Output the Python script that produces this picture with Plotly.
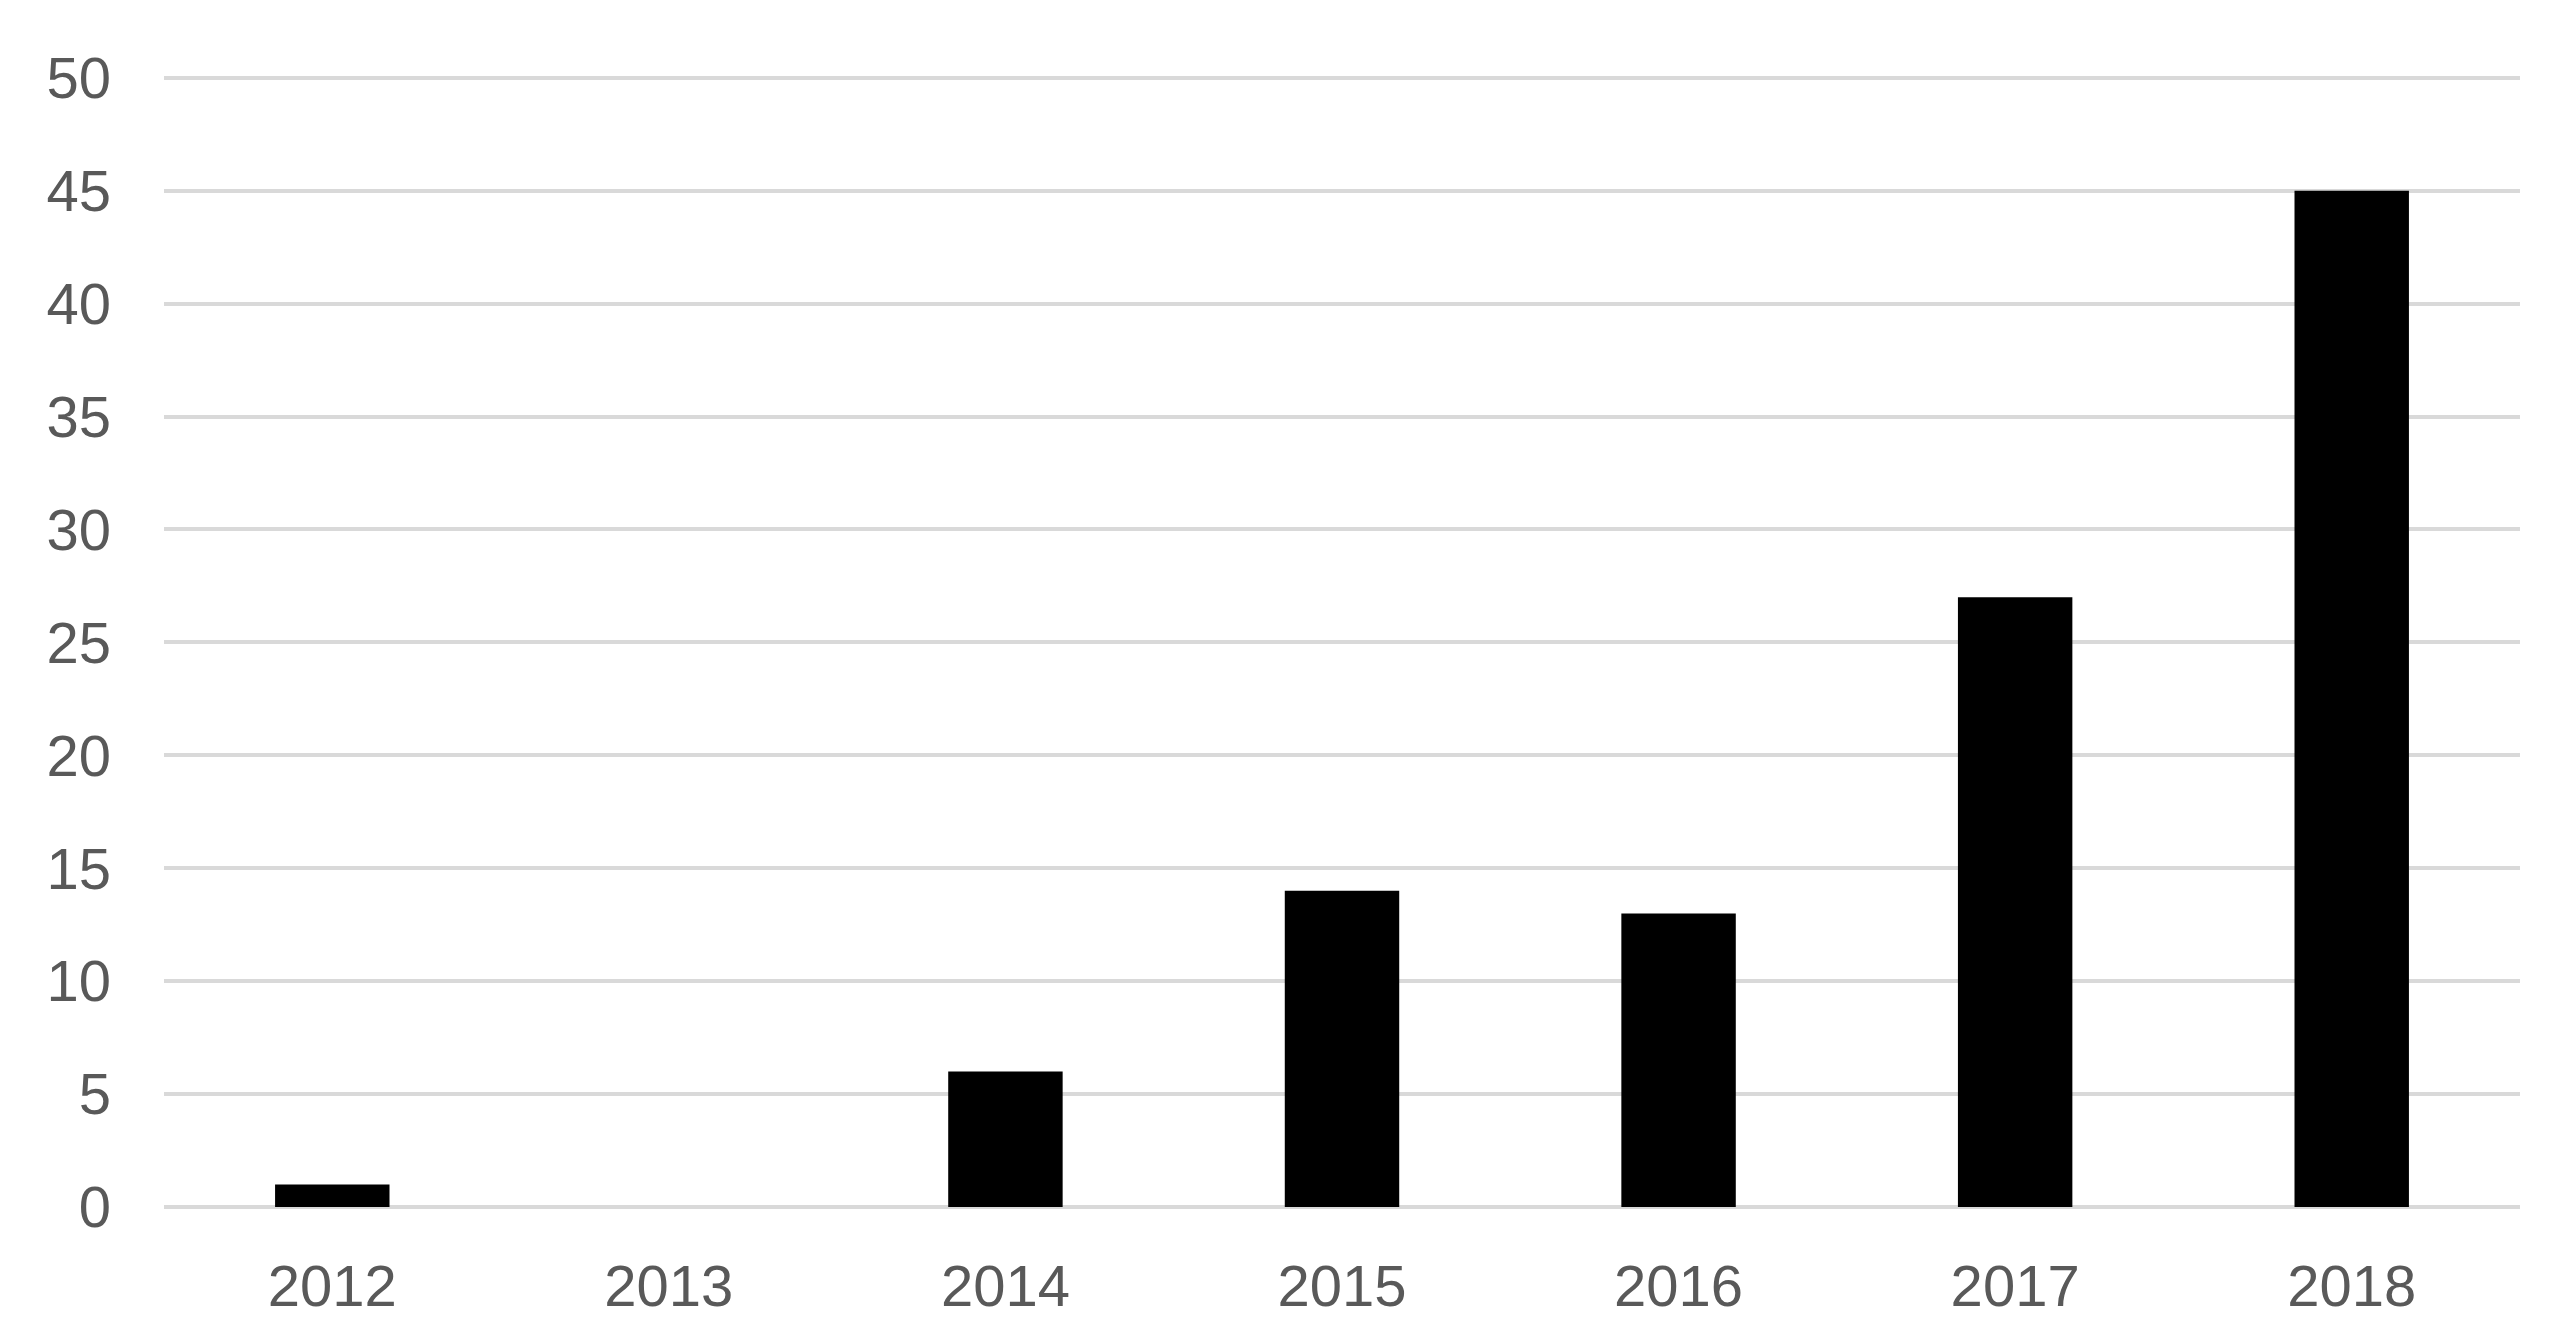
'''
    Bar chart: yearly counts 2012-2018.
'''

import plotly.graph_objects as go

years = ['2012', '2013', '2014', '2015', '2016', '2017', '2018']
counts = [1, 0, 6, 14, 13, 27, 45]
y_ticks = [0, 5, 10, 15, 20, 25, 30, 35, 40, 45, 50]

FONT = dict(family='Liberation Sans, Arial, sans-serif', size=58, color='#595959')

fig = go.Figure()
fig.add_trace(go.Bar(
    x=years,
    y=counts,
    marker=dict(color='#000000', line=dict(width=0)),
    hoverinfo='x+y',
))

# page body has an 8px margin, so the figure is a bit smaller than the window
fig.update_layout(
    width=2545,
    height=1332,
    margin=dict(l=156, r=33, t=63, b=133),
    paper_bgcolor='white',
    plot_bgcolor='white',
    bargap=0.66,
    showlegend=False,
    font=FONT,
)

fig.update_xaxes(
    type='category',
    showgrid=False,
    showline=False,
    zeroline=False,
    ticks='',
    ticklabelstandoff=40,
    tickfont=FONT,
)

# a bit of headroom so the top gridline (50) is still drawn
fig.update_yaxes(
    range=[0, 50.3],
    tickvals=y_ticks,
    showgrid=True,
    gridcolor='#d9d9d9',
    gridwidth=4,
    zeroline=True,
    zerolinecolor='#d9d9d9',
    zerolinewidth=4,
    showline=False,
    ticks='',
    ticklabelstandoff=52,
    tickfont=FONT,
)

fig.write_html("out.html")
